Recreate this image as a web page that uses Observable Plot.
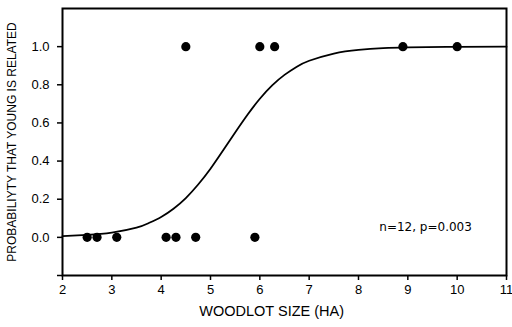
<!DOCTYPE html>
<html>
<head>
<meta charset="utf-8">
<script src="https://cdn.jsdelivr.net/npm/d3@7"></script>
<script src="https://cdn.jsdelivr.net/npm/@observablehq/plot@0.6"></script>
<style>
  html, body { margin: 0; padding: 0; background: #fff; }
  #chart svg { display: block; }
  #chart svg text { font-family: "Liberation Sans", Arial, sans-serif; }
  #chart svg g.note text { font-family: "DejaVu Sans", Verdana, sans-serif; }
</style>
</head>
<body>
<div id="chart"></div>
<script>
// Observed woodlots: size (ha) and whether young were related (0/1)
const sizes = [2.5, 2.7, 3.1, 4.1, 4.3, 4.7, 5.9, 4.5, 6.0, 6.3, 8.9, 10.0];
const related = [0, 0, 0, 0, 0, 0, 0, 1, 1, 1, 1, 1];

// Fitted logistic curve
const curveX = [2, 2.5, 3, 3.5, 3.75, 4, 4.25, 4.5, 4.75, 5, 5.25, 5.5, 5.75, 6, 6.25, 6.5, 6.75, 7, 7.5, 8, 8.5, 9, 10, 11];
const curveY = [0.006, 0.013, 0.025, 0.051, 0.075, 0.107, 0.15, 0.206, 0.277, 0.36, 0.454, 0.55, 0.643, 0.727, 0.797, 0.852, 0.895, 0.926, 0.964, 0.983, 0.992, 0.996, 0.999, 1.0];

const xTicks = [2, 3, 4, 5, 6, 7, 8, 9, 10, 11];
const yTicks = [-0.2, 0.0, 0.2, 0.4, 0.6, 0.8, 1.0];
const yTickLabels = ["", "0.0", "0.2", "0.4", "0.6", "0.8", "1.0"];

const xLabel = "WOODLOT SIZE (HA)";
const yLabel = "PROBABILIYTY THAT YOUNG IS RELATED";
const note = "n=12, p=0.003";

const points = sizes.map((s, i) => ({x: s, y: related[i]}));
const curve = curveX.map((x, i) => ({x, y: curveY[i]}));

const chart = Plot.plot({
  width: 512,
  height: 327,
  marginLeft: 62,
  marginRight: 6,
  marginTop: 8,
  marginBottom: 52,
  style: {fontFamily: "'Liberation Sans', Arial, sans-serif", fontSize: "12px", color: "#000", background: "#fff"},
  x: {domain: [2, 11]},
  y: {domain: [-0.2, 1.2]},
  marks: [
    Plot.axisX({ticks: xTicks, tickSize: 5, tickPadding: 4, tickFormat: d => String(d), fontSize: 13,
      label: null, strokeWidth: 1.5}),
    Plot.text([{x: 6.24, t: xLabel}], {x: "x", text: "t", frameAnchor: "bottom", dy: 40, fontSize: 14.5, fill: "#000"}),
    Plot.axisY({ticks: yTicks, tickSize: 5, tickPadding: 8, fontSize: 13,
      tickFormat: d => yTickLabels[yTicks.findIndex(t => Math.abs(t - d) < 1e-9)],
      label: null, strokeWidth: 1.5}),
    Plot.axisY({ticks: [], label: yLabel, labelAnchor: "center", labelArrow: "none", labelOffset: 55, fontSize: 12}),
    Plot.line(curve, {x: "x", y: "y", curve: "natural", stroke: "#000", strokeWidth: 1.8}),
    Plot.dot(points, {x: "x", y: "y", r: 4.6, fill: "#000", stroke: "none"}),
    Plot.text([{x: 9.36, y: 0.053, t: note}], {x: "x", y: "y", text: "t", className: "note", fontSize: 12, fill: "#000"}),
    Plot.frame({stroke: "#000", strokeWidth: 2})
  ]
});
document.getElementById("chart").appendChild(chart);
</script>
</body>
</html>
